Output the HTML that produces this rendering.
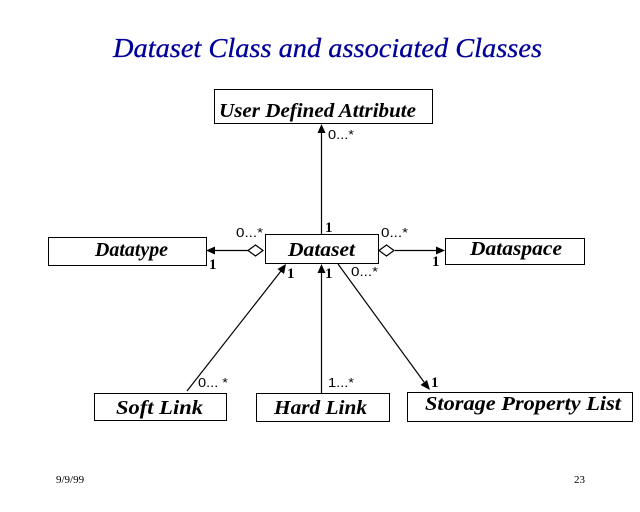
<!DOCTYPE html>
<html>
<head>
<meta charset="utf-8">
<style>
html,body{margin:0;padding:0;background:#fff;}
svg{display:block;}
.cls{font-family:"Liberation Serif",serif;font-weight:bold;font-style:italic;font-size:20px;fill:#000;}
.m{font-family:"Liberation Sans",sans-serif;font-size:13px;fill:#000;}
.one{font-family:"Liberation Serif",serif;font-weight:bold;font-size:15px;fill:#000;}
</style>
</head>
<body>
<svg width="640" height="512" viewBox="0 0 640 512" xmlns="http://www.w3.org/2000/svg">
<rect width="640" height="512" fill="#fff"/>
<text x="113" y="57" font-family="Liberation Serif, serif" font-style="italic" font-size="27" fill="#000099" stroke="#000099" stroke-width="0.3" textLength="429" lengthAdjust="spacingAndGlyphs">Dataset Class and associated Classes</text>

<g fill="#fff" stroke="#000" stroke-width="1">
<rect x="214.5" y="89.5" width="218" height="34"/>
<rect x="48.5" y="237.5" width="158" height="28"/>
<rect x="265.5" y="234.5" width="113" height="29"/>
<rect x="445.5" y="238.5" width="139" height="26"/>
<rect x="94.5" y="393.5" width="132" height="27"/>
<rect x="256.5" y="393.5" width="133" height="28"/>
<rect x="407.5" y="392.5" width="225" height="29"/>
</g>

<text class="cls" x="219" y="117" textLength="197" lengthAdjust="spacingAndGlyphs">User Defined Attribute</text>
<text class="cls" x="95" y="256" textLength="73" lengthAdjust="spacingAndGlyphs">Datatype</text>
<text class="cls" x="288" y="256" textLength="67" lengthAdjust="spacingAndGlyphs">Dataset</text>
<text class="cls" x="470" y="255" textLength="92" lengthAdjust="spacingAndGlyphs">Dataspace</text>
<text class="cls" x="116" y="414" textLength="87" lengthAdjust="spacingAndGlyphs">Soft Link</text>
<text class="cls" x="274" y="414" textLength="93" lengthAdjust="spacingAndGlyphs">Hard Link</text>
<text class="cls" x="425" y="410" textLength="196" lengthAdjust="spacingAndGlyphs">Storage Property List</text>

<g stroke="#000" stroke-width="1.2" fill="none">
<line x1="321.5" y1="234" x2="321.5" y2="132"/>
<line x1="248" y1="250.5" x2="214" y2="250.5"/>
<line x1="395" y1="250.5" x2="437" y2="250.5"/>
<line x1="187" y1="391" x2="281" y2="271"/>
<line x1="321.5" y1="393" x2="321.5" y2="272"/>
<line x1="338" y1="264" x2="424" y2="382"/>
</g>
<g fill="#000" stroke="none">
<polygon points="321.5,124 317.5,133 325.5,133"/>
<polygon points="206,250.5 215,246.5 215,254.5"/>
<polygon points="445,250.5 436,246.5 436,254.5"/>
<polygon points="286,264 277.5,269 284,274"/>
<polygon points="321.5,264 317.5,273 325.5,273"/>
<polygon points="430,390 427,380 420.5,385"/>
</g>
<g fill="#fff" stroke="#000" stroke-width="1.2">
<polygon points="248,250.5 255.5,245 263,250.5 255.5,256"/>
<polygon points="379,250.5 386.5,245 394,250.5 386.5,256"/>
</g>

<text class="m" x="328" y="139" textLength="26" lengthAdjust="spacingAndGlyphs">0...*</text>
<text class="one" x="325" y="232">1</text>
<text class="m" x="236" y="237" textLength="27" lengthAdjust="spacingAndGlyphs">0...*</text>
<text class="one" x="209" y="269">1</text>
<text class="m" x="381" y="237" textLength="27" lengthAdjust="spacingAndGlyphs">0...*</text>
<text class="one" x="432" y="266">1</text>
<text class="one" x="287" y="278">1</text>
<text class="one" x="325" y="278">1</text>
<text class="m" x="351" y="276" textLength="27" lengthAdjust="spacingAndGlyphs">0...*</text>
<text class="m" x="198" y="387" textLength="30" lengthAdjust="spacingAndGlyphs">0... *</text>
<text class="m" x="328" y="387" textLength="26" lengthAdjust="spacingAndGlyphs">1...*</text>
<text class="one" x="431" y="387">1</text>

<text x="56" y="483" font-family="Liberation Serif, serif" font-size="11" fill="#000">9/9/99</text>
<text x="574" y="483" font-family="Liberation Serif, serif" font-size="11" fill="#000">23</text>
</svg>
</body>
</html>
